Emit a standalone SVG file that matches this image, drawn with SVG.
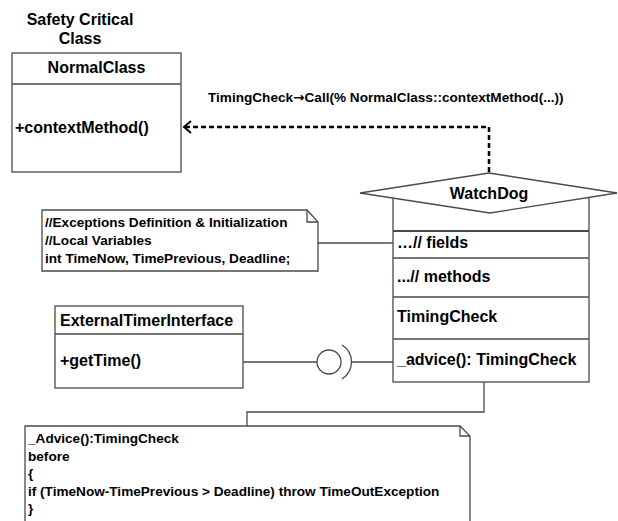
<svg xmlns="http://www.w3.org/2000/svg" width="618" height="521" viewBox="0 0 618 521">
<defs>
<style>
.t{font-family:"Liberation Sans",Arial,sans-serif;font-weight:bold;font-size:16px;fill:#000}
.n{font-family:"Liberation Sans",Arial,sans-serif;font-weight:bold;font-size:13.6px;fill:#000}
.box{fill:#fff;stroke:#4a4a4a;stroke-width:1.3}
.ln{fill:none;stroke:#4a4a4a;stroke-width:1.3}
</style>
<marker id="open" markerWidth="12" markerHeight="14" refX="8" refY="7" orient="auto" markerUnits="userSpaceOnUse">
<path d="M1,1 L8,7 L1,13" fill="none" stroke="#000" stroke-width="2"/>
</marker>
</defs>
<rect width="618" height="521" fill="#fff"/>

<g id="connectors">
<path d="M489,172 L489,127 L184,127" fill="none" stroke="#000" stroke-width="2.5" stroke-dasharray="5,3" marker-end="url(#open)"/>
<line class="ln" x1="318" y1="243" x2="393" y2="243"/>
<line class="ln" x1="243" y1="362" x2="317" y2="362"/>
<circle cx="329" cy="362" r="12" class="ln"/>
<path d="M342,345 A20,20 0 0 1 342,379" class="ln"/>
<line class="ln" x1="351" y1="362" x2="393" y2="362"/>
<path class="ln" d="M484,382 L484,412 L247,412 L247,426"/>
</g>

<g id="title">
<text class="t" x="80" y="25" text-anchor="middle">Safety Critical</text>
<text class="t" x="80" y="44" text-anchor="middle">Class</text>
</g>

<g id="NormalClass">
<rect class="box" x="12" y="53" width="169" height="119"/>
<line class="ln" x1="12" y1="84" x2="181" y2="84"/>
<text class="t" x="96.5" y="73" text-anchor="middle">NormalClass</text>
<text class="t" x="15" y="133">+contextMethod()</text>
</g>

<g id="label">
<text class="t" x="208" y="102" style="font-size:13.6px">TimingCheck<tspan style="font-family:'DejaVu Sans',sans-serif;font-weight:bold">→</tspan>Call(% NormalClass::contextMethod(...))</text>
</g>

<g id="WatchDog">
<rect class="box" x="393" y="193" width="196" height="189"/>
<line class="ln" x1="393" y1="231" x2="589" y2="231" style="stroke-width:1.8"/>
<line class="ln" x1="393" y1="258" x2="589" y2="258"/>
<line class="ln" x1="393" y1="297" x2="589" y2="297"/>
<line class="ln" x1="393" y1="339" x2="589" y2="339"/>
<polygon class="box" points="360,193 489,173 617,193 490,213"/>
<text class="t" x="489" y="199" text-anchor="middle">WatchDog</text>
<text class="t" x="397" y="248">…// fields</text>
<text class="t" x="397" y="282">...// methods</text>
<text class="t" x="397" y="322">TimingCheck</text>
<text class="t" x="397" y="365">_advice(): TimingCheck</text>
</g>

<g id="note1">
<path class="box" d="M42,210 L307,210 L318,222 L318,271 L42,271 Z"/>
<path class="ln" d="M307,210 L307,222 L318,222"/>
<text class="n" x="45" y="227">//Exceptions Definition &amp; Initialization</text>
<text class="n" x="45" y="245">//Local Variables</text>
<text class="n" x="45" y="263">int TimeNow, TimePrevious, Deadline;</text>
</g>

<g id="ExternalTimerInterface">
<rect class="box" x="55" y="306" width="188" height="82"/>
<line class="ln" x1="55" y1="334" x2="243" y2="334"/>
<text class="t" x="60" y="326">ExternalTimerInterface</text>
<text class="t" x="60" y="366">+getTime()</text>
</g>

<g id="note2">
<path class="box" d="M25,426 L460,426 L470,436 L470,530 L25,530 Z"/>
<path class="ln" d="M460,426 L460,436 L470,436"/>
<text class="n" x="28" y="443">_Advice():TimingCheck</text>
<text class="n" x="28" y="461">before</text>
<text class="n" x="28" y="478">{</text>
<text class="n" x="28" y="496">if (TimeNow-TimePrevious &gt; Deadline) throw TimeOutException</text>
<text class="n" x="28" y="513">}</text>
</g>
</svg>
